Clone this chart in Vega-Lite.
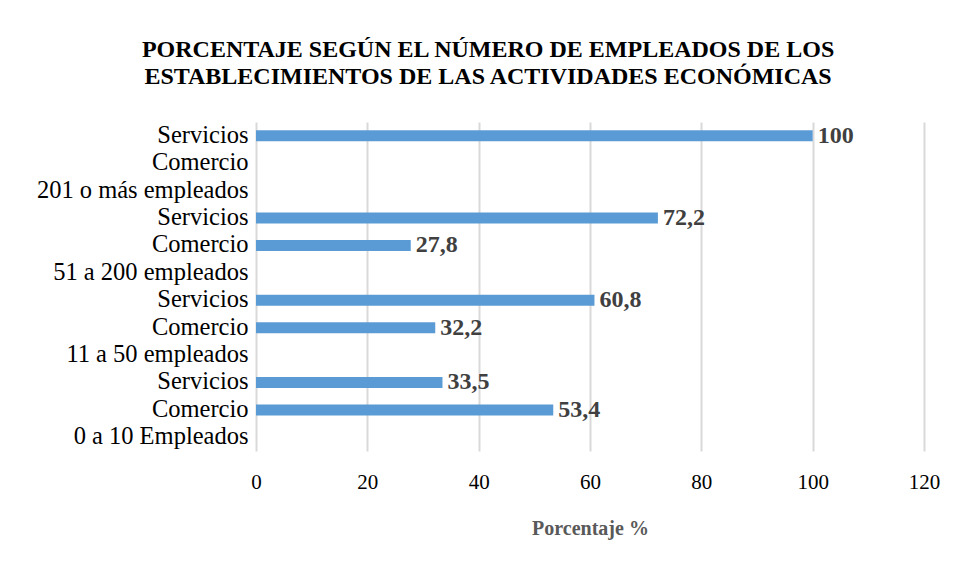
{
  "$schema": "https://vega.github.io/schema/vega-lite/v6.json",
  "autosize": {"type": "fit", "contains": "padding"},
  "width": 954,
  "height": 561,
  "padding": {"left": 36, "right": 14, "top": 38, "bottom": 23},
  "background": "white",
  "config": {
    "locale": {"number": {"decimal": ",", "thousands": ".", "grouping": [3], "currency": ["", ""]}},
    "view": {"stroke": null},
    "font": "Liberation Serif"
  },
  "title": {
    "text": ["PORCENTAJE SEGÚN EL NÚMERO DE EMPLEADOS DE LOS", "ESTABLECIMIENTOS DE LAS ACTIVIDADES ECONÓMICAS"],
    "font": "Liberation Serif",
    "fontSize": 24,
    "fontWeight": "bold",
    "color": "#000000",
    "anchor": "middle",
    "frame": "bounds",
    "lineHeight": 27,
    "offset": 33
  },
  "data": {
    "values": [
      {"key": "01|Servicios", "value": 100},
      {"key": "02|Comercio", "value": null},
      {"key": "03|201 o más empleados", "value": null},
      {"key": "04|Servicios", "value": 72.2},
      {"key": "05|Comercio", "value": 27.8},
      {"key": "06|51 a 200 empleados", "value": null},
      {"key": "07|Servicios", "value": 60.8},
      {"key": "08|Comercio", "value": 32.2},
      {"key": "09|11 a 50 empleados", "value": null},
      {"key": "10|Servicios", "value": 33.5},
      {"key": "11|Comercio", "value": 53.4},
      {"key": "12|0 a 10 Empleados", "value": null}
    ]
  },
  "encoding": {
    "y": {
      "field": "key",
      "type": "nominal",
      "sort": null,
      "scale": {
        "domain": ["01|Servicios", "02|Comercio", "03|201 o más empleados", "04|Servicios", "05|Comercio", "06|51 a 200 empleados", "07|Servicios", "08|Comercio", "09|11 a 50 empleados", "10|Servicios", "11|Comercio", "12|0 a 10 Empleados"],
        "paddingInner": 0,
        "paddingOuter": 0
      },
      "axis": {
        "title": null,
        "labelExpr": "split(datum.label, '|')[1]",
        "labelFont": "Liberation Serif",
        "labelFontSize": 24.5,
        "labelLimit": 400,
        "labelColor": "#000000",
        "labelPadding": 8,
        "ticks": false,
        "domain": false,
        "grid": false
      }
    },
    "x": {
      "field": "value",
      "type": "quantitative",
      "scale": {"domain": [0, 120], "nice": false},
      "axis": {
        "values": [0, 20, 40, 60, 80, 100, 120],
        "title": "Porcentaje %",
        "titleFont": "Liberation Serif",
        "titleFontSize": 20,
        "titleFontWeight": "bold",
        "titleColor": "#595959",
        "titlePadding": 26,
        "labelFont": "Liberation Serif",
        "labelFontSize": 21,
        "labelColor": "#000000",
        "labelPadding": 20,
        "labelFlush": false,
        "ticks": false,
        "domain": false,
        "grid": true,
        "gridColor": "#d9d9d9",
        "gridWidth": 2
      }
    }
  },
  "layer": [
    {
      "mark": {"type": "bar", "color": "#5b9bd5", "size": 11}
    },
    {
      "transform": [{"filter": "datum.value != null"}],
      "mark": {"type": "text", "align": "left", "baseline": "middle", "dx": 5, "font": "Liberation Serif", "fontSize": 24, "fontWeight": "bold", "color": "#404040"},
      "encoding": {
        "text": {"field": "value", "type": "quantitative", "format": ".1~f"}
      }
    }
  ]
}
